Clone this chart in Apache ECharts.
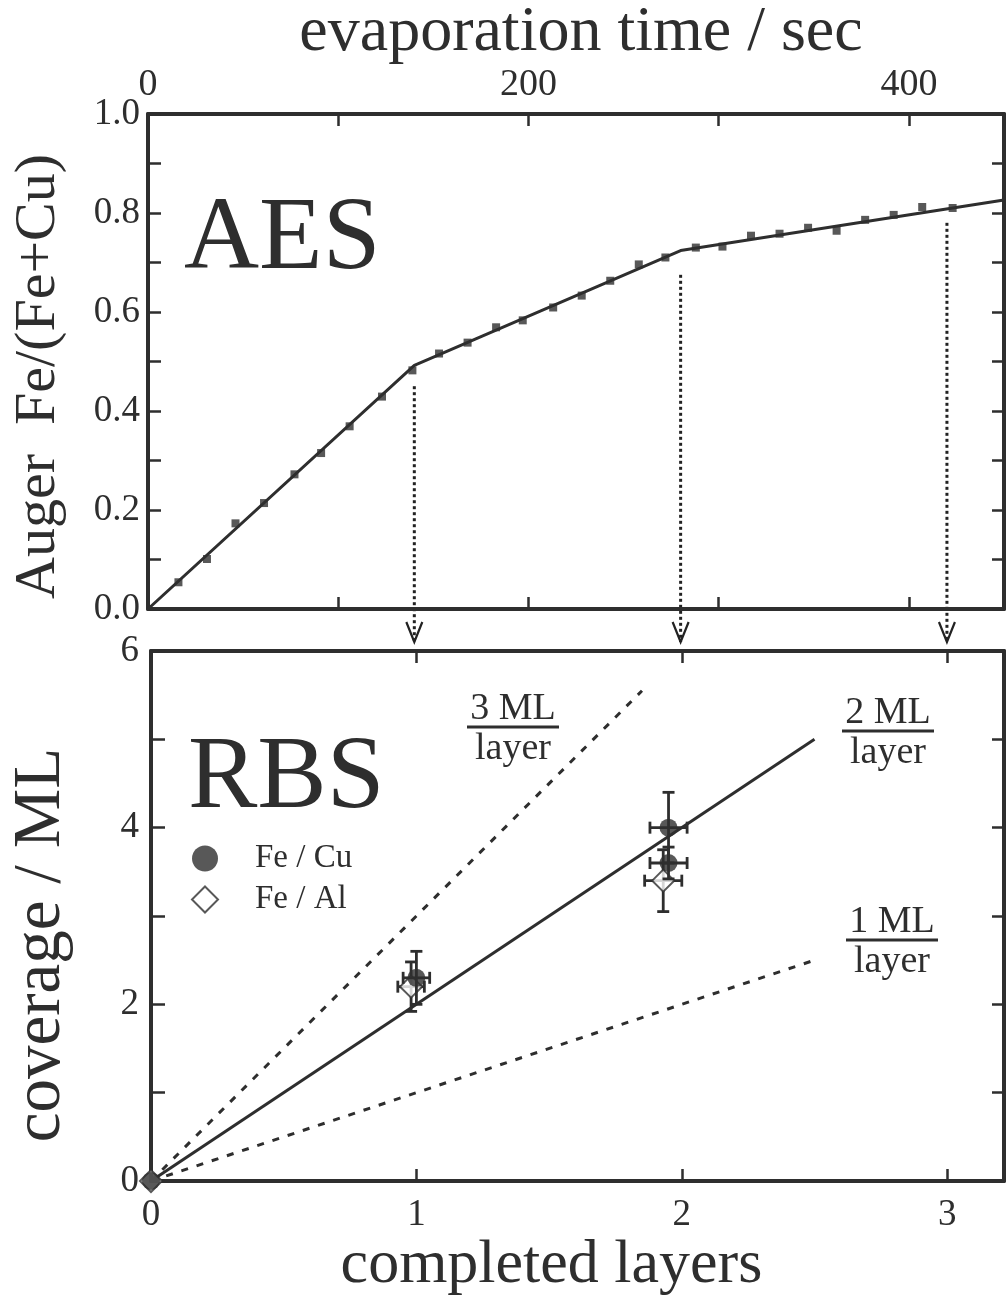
<!DOCTYPE html>
<html>
<head>
<meta charset="utf-8">
<script src="https://cdn.jsdelivr.net/npm/echarts@6/dist/echarts.min.js"></script>
<style>
  html, body { margin: 0; padding: 0; background: #fff; }
  #chart { width: 1007px; height: 1301px; }
</style>
</head>
<body>
<div id="chart"></div>
<script>
// ---- AES: Auger ratio versus evaporation time ----
const aesTime  = [16, 31, 46, 61, 77, 91, 106, 123, 139, 153, 168, 183, 197, 213,
                  228, 243, 258, 272, 288, 302, 317, 332, 347, 362, 377, 392, 407, 423];
const aesRatio = [0.054, 0.101, 0.173, 0.214, 0.272, 0.315, 0.369, 0.429, 0.482, 0.516, 0.538, 0.569, 0.583, 0.609,
                  0.633, 0.663, 0.696, 0.710, 0.730, 0.732, 0.754, 0.758, 0.770, 0.764, 0.786, 0.796, 0.812, 0.810];
// piecewise-linear fit, breaks where each layer is completed
const fitTime  = [0, 140, 280, 450];
const fitRatio = [0, 0.492, 0.724, 0.826];
// completion time of layers 1..3 and the ratio where each drop line begins
const layerTime = [140, 280, 420];
const dropStart = [0.45, 0.675, 0.78];

// ---- RBS: coverage versus completed layers ----
// [layers, coverage (ML), layer error, coverage error]
const feCu = [[0, 0, 0, 0], [1.0, 2.3, 0.05, 0.3], [1.95, 4.0, 0.07, 0.4], [1.95, 3.6, 0.07, 0.18]];
const feAl = [[0, 0, 0, 0], [0.98, 2.2, 0.05, 0.28], [1.93, 3.4, 0.07, 0.35]];
// growth-rate reference lines, ML per layer
const rate2 = [[0, 0], [2.5, 5.0]];
const rate3 = [[0, 0], [1.85, 5.55]];
const rate1 = [[0, 0], [2.5, 2.5]];

// tick labels
const timeLabels = [0, 200, 400];
const ratioLabels = [0, 0.2, 0.4, 0.6, 0.8, 1.0];
const layerLabels = [0, 1, 2, 3];
const coverageLabels = [0, 2, 4, 6];

const INK = '#2e2e2e';
const SERIF = '"Liberation Serif", "Times New Roman", serif';

const axisLine = { show: true, onZero: false, lineStyle: { color: INK, width: 4 } };
const tick = (len) => ({ show: true, inside: true, length: len, lineStyle: { color: INK, width: 2.5 } });
const labelFont = { fontFamily: SERIF, fontSize: 37, color: INK };
const near = (list, v) => list.some(t => Math.abs(t - v) < 1e-6);

function errorBars(params, api) {
  const x = api.value(0), y = api.value(1), ex = api.value(2), ey = api.value(3);
  if (!ex && !ey) return;
  const top = api.coord([x, y + ey]), bot = api.coord([x, y - ey]);
  const lft = api.coord([x - ex, y]), rgt = api.coord([x + ex, y]);
  const cap = 6;
  const st = { stroke: INK, lineWidth: 2.8 };
  const seg = (x1, y1, x2, y2) => ({ type: 'line', shape: { x1, y1, x2, y2 }, style: st });
  return {
    type: 'group',
    children: [
      seg(top[0], top[1], bot[0], bot[1]),
      seg(top[0] - cap, top[1], top[0] + cap, top[1]),
      seg(bot[0] - cap, bot[1], bot[0] + cap, bot[1]),
      seg(lft[0], lft[1], rgt[0], rgt[1]),
      seg(lft[0], lft[1] - cap, lft[0], lft[1] + cap),
      seg(rgt[0], rgt[1] - cap, rgt[0], rgt[1] + cap)
    ]
  };
}

const chart = echarts.init(document.getElementById('chart'), null, { renderer: 'canvas' });

const option = {
  backgroundColor: '#fff',
  animation: false,
  textStyle: { fontFamily: SERIF },
  grid: [
    { left: 148, top: 113, width: 857, height: 496 },
    { left: 150, top: 651, width: 855, height: 530 }
  ],
  xAxis: [
    { // evaporation time, drawn on top of the AES panel
      type: 'value', gridIndex: 0, position: 'top', min: 0, max: 450, interval: 100,
      axisLine, axisTick: tick(12), splitLine: { show: false },
      axisLabel: { ...labelFont, fontSize: 38, margin: 10,
        formatter: v => near(timeLabels, v) ? String(v) : '' },
      name: 'evaporation time / sec', nameLocation: 'middle', nameGap: 46,
      nameTextStyle: { fontFamily: SERIF, fontSize: 64, color: INK, padding: [0, 0, 0, 10] }
    },
    { // mirrored ticks at the bottom of the AES panel
      type: 'value', gridIndex: 0, position: 'bottom', min: 0, max: 450, interval: 100,
      axisLine, axisTick: tick(12), axisLabel: { show: false }, splitLine: { show: false }
    },
    { // completed layers
      type: 'value', gridIndex: 1, position: 'bottom', min: 0, max: 3.214, interval: 1,
      axisLine, axisTick: tick(12), splitLine: { show: false },
      axisLabel: { ...labelFont, margin: 16,
        formatter: v => near(layerLabels, v) ? String(v) : '' },
      name: 'completed layers', nameLocation: 'middle', nameGap: 46,
      nameTextStyle: { fontFamily: SERIF, fontSize: 62, color: INK, padding: [0, 52, 0, 0] }
    },
    { // mirrored ticks at the top of the RBS panel
      type: 'value', gridIndex: 1, position: 'top', min: 0, max: 3.214, interval: 1,
      axisLine, axisTick: tick(12), axisLabel: { show: false }, splitLine: { show: false }
    }
  ],
  yAxis: [
    {
      type: 'value', gridIndex: 0, position: 'left', min: 0, max: 1, interval: 0.1,
      axisLine, axisTick: tick(13), splitLine: { show: false },
      axisLabel: { ...labelFont, margin: 8,
        formatter: v => near(ratioLabels, v) ? v.toFixed(1) : '' },
      name: 'Auger  Fe/(Fe+Cu)', nameLocation: 'middle', nameGap: 80,
      nameTextStyle: { fontFamily: SERIF, fontSize: 58, color: INK, padding: [0, 30, 0, 0] }
    },
    {
      type: 'value', gridIndex: 0, position: 'right', min: 0, max: 1, interval: 0.1,
      axisLine, axisTick: tick(12), axisLabel: { show: false }, splitLine: { show: false }
    },
    {
      type: 'value', gridIndex: 1, position: 'left', min: 0, max: 6, interval: 1,
      axisLine, axisTick: tick(14), splitLine: { show: false },
      axisLabel: { ...labelFont, margin: 12,
        formatter: v => near(coverageLabels, v) ? String(v) : '' },
      name: 'coverage / ML', nameLocation: 'middle', nameGap: 76,
      nameTextStyle: { fontFamily: SERIF, fontSize: 67, color: INK, padding: [0, 58, 0, 0] }
    },
    {
      type: 'value', gridIndex: 1, position: 'right', min: 0, max: 6, interval: 1,
      axisLine, axisTick: tick(12), axisLabel: { show: false }, splitLine: { show: false }
    }
  ],
  legend: {
    data: ['Fe / Cu', 'Fe / Al'],
    orient: 'vertical', left: 186, top: 837,
    itemWidth: 26, itemHeight: 26, itemGap: 8,
    textStyle: { fontFamily: SERIF, fontSize: 33, color: INK, lineHeight: 32, padding: [0, 0, 0, 32] }
  },
  series: [
    {
      name: 'AES fit', type: 'line', xAxisIndex: 0, yAxisIndex: 0,
      data: fitTime.map((t, i) => [t, fitRatio[i]]),
      showSymbol: false, lineStyle: { color: INK, width: 3 }, z: 3
    },
    {
      name: 'AES', type: 'scatter', xAxisIndex: 0, yAxisIndex: 0,
      data: aesTime.map((t, i) => [t, aesRatio[i]]),
      symbol: 'rect', symbolSize: 8, itemStyle: { color: INK }, z: 4
    },
    {
      name: '3 ML/layer', type: 'line', xAxisIndex: 2, yAxisIndex: 2, data: rate3,
      showSymbol: false, lineStyle: { color: INK, width: 3, type: [7, 9] }
    },
    {
      name: '1 ML/layer', type: 'line', xAxisIndex: 2, yAxisIndex: 2, data: rate1,
      showSymbol: false, lineStyle: { color: INK, width: 3, type: [7, 9] }
    },
    {
      name: '2 ML/layer', type: 'line', xAxisIndex: 2, yAxisIndex: 2, data: rate2,
      showSymbol: false, lineStyle: { color: INK, width: 3 }
    },
    {
      name: 'Fe / Al', type: 'scatter', xAxisIndex: 2, yAxisIndex: 2,
      data: feAl.map(d => [d[0], d[1]]),
      symbol: 'diamond', symbolSize: 22,
      itemStyle: { color: '#fff', borderColor: INK, borderWidth: 2 }, z: 5
    },
    {
      name: 'Fe / Al error', type: 'custom', xAxisIndex: 2, yAxisIndex: 2,
      data: feAl, renderItem: errorBars, encode: { x: 0, y: 1 }, z: 5
    },
    {
      name: 'Fe / Cu error', type: 'custom', xAxisIndex: 2, yAxisIndex: 2,
      data: feCu, renderItem: errorBars, encode: { x: 0, y: 1 }, z: 6
    },
    {
      name: 'Fe / Cu', type: 'scatter', xAxisIndex: 2, yAxisIndex: 2,
      data: feCu.map(d => [d[0], d[1]]),
      symbol: 'circle', symbolSize: 18, itemStyle: { color: INK }, z: 6
    }
  ]
};

chart.setOption(option);

// panel titles and rate annotations
function fraction(cx, y, top) {
  return [
    { type: 'text', x: cx, y: y, style: { text: top, font: '38px ' + SERIF, fill: INK, align: 'center', verticalAlign: 'middle' } },
    { type: 'line', shape: { x1: cx - 46, y1: y + 18, x2: cx + 46, y2: y + 18 }, style: { stroke: INK, lineWidth: 3 } },
    { type: 'text', x: cx, y: y + 40, style: { text: 'layer', font: '38px ' + SERIF, fill: INK, align: 'center', verticalAlign: 'middle' } }
  ];
}

const graphics = [
  { type: 'text', x: 184, y: 241, style: { text: 'AES', font: '104px ' + SERIF, fill: INK, verticalAlign: 'middle' } },
  { type: 'text', x: 188, y: 780, style: { text: 'RBS', font: '104px ' + SERIF, fill: INK, verticalAlign: 'middle' } },
  ...fraction(513, 709, '3 ML'),
  ...fraction(888, 713, '2 ML'),
  ...fraction(892, 922, '1 ML')
];

// dotted drop lines from each layer break down to the RBS layer axis
const rbsTop = chart.convertToPixel({ yAxisIndex: 2 }, 6);
layerTime.forEach((t, i) => {
  const x = chart.convertToPixel({ xAxisIndex: 0 }, t);
  const y0 = chart.convertToPixel({ yAxisIndex: 0 }, dropStart[i]);
  const tip = rbsTop - 9;
  graphics.push({ type: 'line', shape: { x1: x, y1: y0, x2: x, y2: tip },
    style: { stroke: '#222', lineWidth: 3, lineDash: [3, 3] } });
  graphics.push({ type: 'polyline', shape: { points: [[x - 8, tip - 20], [x, tip], [x + 8, tip - 20]] },
    style: { stroke: '#222', lineWidth: 2.2, fill: null } });
});

chart.setOption({ graphic: graphics });
</script>
</body>
</html>
